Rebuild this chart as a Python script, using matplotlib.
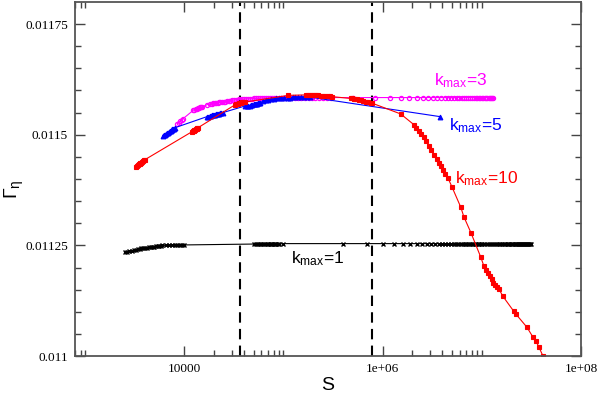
import numpy as np
import matplotlib
matplotlib.use("Agg")
import matplotlib.pyplot as plt
from matplotlib.ticker import FixedLocator, NullFormatter

plt.rcParams['font.family'] = ['Liberation Sans', 'DejaVu Sans']
plt.rcParams['mathtext.default'] = 'regular'

# k_max = 1 (black)
k1_S = [2500, 2650, 2800, 2950, 3100, 3250, 3400, 3550, 3700, 3850, 4000, 4200, 4400,
        4600, 4800, 5000, 5200, 5400, 5600, 5800, 6000, 6500,
        7000, 7500, 8000, 8500, 9000, 9500, 10000,
        50000, 52500, 55000, 57500, 60000, 62500, 65000, 67500, 70000, 72500, 75000,
        77500, 80000, 82500, 85000, 87500, 90000]
k1_G = [0.011234, 0.011235, 0.011237, 0.011238, 0.011239, 0.01124, 0.011241, 0.011242,
        0.011243, 0.011244, 0.011245, 0.011245, 0.011246, 0.011246, 0.011247, 0.011247,
        0.011248, 0.011248, 0.011249, 0.011249, 0.01125, 0.01125, 0.01125, 0.011251,
        0.011251, 0.011251, 0.011251, 0.011251, 0.011251,
        0.011253, 0.011253, 0.011253, 0.011253, 0.011253, 0.011253, 0.011253, 0.011253,
        0.011253, 0.011253, 0.011253, 0.011253, 0.011253, 0.011253, 0.011253, 0.011253,
        0.011253]
# sparse tail of k_max=1, S in units of 1e6
k1_tail_S = [0.1, 0.4, 0.7, 1.0, 1.3, 1.6, 1.9, 2.2, 2.5, 2.8, 3.1, 3.4, 3.7, 4.0, 4.3,
             4.6, 4.9, 5.2, 5.5, 5.8, 6.1, 6.4, 6.7, 7.0, 7.3, 7.6, 7.9, 8.2, 8.5, 8.8,
             9.1, 9.4, 9.7, 10.0, 10.6, 11.2, 11.8, 12.4, 13.0, 13.6, 14.2, 14.8, 15.4,
             16.0, 16.6, 17.2, 17.8, 18.4, 19.0, 19.6, 20.2, 20.8, 21.4, 22.0, 22.6, 23.2,
             23.8, 24.4, 25.0, 25.6, 26.2, 26.8, 27.4, 28.0, 28.6, 29.2, 29.8, 30.4, 31.0]
k1_tail_G = 0.011254

# k_max = 3 (magenta)
k3_S = [8500, 8800, 9100, 9400, 9700, 12300, 12650, 13000, 13400, 13800, 14150, 14500,
        14850, 15200, 17000,
        18300, 19000, 19500, 20200, 21000, 21700, 22500, 23200, 24000, 25000, 26000,
        27000, 28000, 29000, 30000, 31500, 33000, 34500, 36000, 38000, 40000, 42000,
        44000, 46000, 48000, 50500, 53000, 55500, 58000, 61000, 64000, 67000, 70000,
        73500, 77000, 81000, 85000, 90000, 95000, 102000, 110000, 120000, 130000,
        140000, 150000, 165000, 180000, 195000, 210000, 230000, 250000, 275000, 300000]
k3_G = [0.011525, 0.011527, 0.01153, 0.011533, 0.011536, 0.011555, 0.011557, 0.011558,
        0.011559, 0.01156, 0.011561, 0.011562, 0.011562, 0.011563, 0.011568,
        0.01157, 0.01157, 0.011571, 0.011571, 0.011572, 0.011572, 0.011573, 0.011573,
        0.011574, 0.011574, 0.011575, 0.011576, 0.011577, 0.011577, 0.011578, 0.011578,
        0.011579, 0.011579, 0.01158, 0.01158, 0.01158, 0.011581, 0.011581, 0.011581,
        0.011581, 0.011582, 0.011582, 0.011582, 0.011582, 0.011583, 0.011583, 0.011583,
        0.011583, 0.011583, 0.011583, 0.011583, 0.011583, 0.011584, 0.011584, 0.011584,
        0.011584, 0.011584, 0.011584, 0.011584, 0.011584, 0.011584, 0.011584, 0.011584,
        0.011584, 0.011584, 0.011584, 0.011584, 0.011584]
# sparse tail of k_max=3, S in units of 1e6
k3_tail_S = [0.50, 0.84, 1.18, 1.52, 1.86, 2.20, 2.54, 2.88, 3.22, 3.56, 3.90, 4.24,
             4.58, 4.92, 5.26, 5.60, 5.94, 6.28, 6.62, 6.96, 7.30, 7.64, 7.98, 8.32,
             8.66, 9.00, 9.34, 9.68, 10.02, 10.36, 10.70, 11.04, 11.38, 11.72, 12.06,
             12.40, 12.74, 13.08]
k3_tail_G = 0.011584

# k_max = 5 (blue)
k5_S = [6100, 6250, 6400, 6550, 6700, 6850, 7000, 7150, 7300, 7450, 7600, 7750, 7900, 8100,
        17000, 17500, 18000, 18500, 19000, 19500, 20000, 20500, 21000, 21500, 22000,
        22500, 23000, 23700, 24500,
        41000, 42500, 44000, 45500, 47000, 48500, 50000, 51500, 53000, 54500, 56000,
        57200, 58500,
        62000, 66000, 70000, 75000, 80000, 85000, 90000, 95000, 102000, 110000, 117000,
        125000, 132000, 140000, 150000, 160000, 172000, 185000,
        3770000]
k5_G = [0.011498, 0.011499, 0.0115, 0.011502, 0.011503, 0.011505, 0.011506, 0.011508,
        0.011509, 0.011511, 0.011512, 0.011513, 0.011514, 0.011516,
        0.011541, 0.011541, 0.011542, 0.011543, 0.011544, 0.011544, 0.011545, 0.011545,
        0.011546, 0.011546, 0.011547, 0.011547, 0.011548, 0.011549, 0.01155,
        0.011565, 0.011565, 0.011566, 0.011566, 0.011567, 0.011568, 0.011569, 0.011569,
        0.01157, 0.01157, 0.011571, 0.011571, 0.011572,
        0.011576, 0.011578, 0.011579, 0.01158, 0.011581, 0.011582, 0.011582, 0.011583,
        0.011583, 0.011584, 0.011584, 0.011585, 0.011585, 0.011585, 0.011585, 0.011585,
        0.011585, 0.011585, 0.011541]

# k_max = 10 (red)
k10_S = [3270, 3350, 3400, 3480, 3550, 3620, 3700, 3780, 3850, 3950, 4040,
         12000, 12200, 12400, 12600, 12800, 13050, 13300, 13550, 13800,
         32700, 33600, 34500, 35500, 36500, 37500, 38500, 39900, 41300,
         112000,
         167000, 176000, 185000, 195000, 205000, 215000, 225000, 237000, 250000, 265000,
         280000, 296000, 312000,
         475000, 492000, 510000, 530000, 550000, 575000, 600000, 637000, 674000, 697000,
         720000, 755000, 790000,
         1520000,
         2060000, 2180000, 2310000, 2450000, 2600000, 2750000, 2900000, 3100000, 3300000,
         3500000, 3700000, 3870000, 4050000, 4290000, 4540000,
         4980000, 6140000, 6580000, 7750000, 9770000,
         10500000, 11000000, 11500000, 12000000, 12600000, 13100000, 13700000, 14300000,
         14900000,
         16300000, 21000000, 22000000, 28500000, 32700000, 35000000, 37700000,
         41300000, 45000000]
k10_G = [0.011428, 0.01143, 0.011431, 0.011433, 0.011434, 0.011436, 0.011437, 0.011439,
         0.01144, 0.011442, 0.011444,
         0.011507, 0.011508, 0.011509, 0.01151, 0.011511, 0.011513, 0.011514, 0.011515,
         0.011516,
         0.011568, 0.011569, 0.01157, 0.011571, 0.011571, 0.011572, 0.011573, 0.011574,
         0.011574,
         0.011589,
         0.01159, 0.01159, 0.01159, 0.01159, 0.011589, 0.011589, 0.011589, 0.011588,
         0.011588, 0.011588, 0.011587, 0.011587, 0.011586,
         0.011582, 0.011582, 0.011581, 0.01158, 0.01158, 0.011579, 0.011578, 0.011577,
         0.011575, 0.011574, 0.011573, 0.011572, 0.011571,
         0.011547,
         0.011523, 0.011516, 0.011509, 0.011502, 0.011495, 0.011485, 0.011475, 0.011465,
         0.011455, 0.011446, 0.011437, 0.011429, 0.011421, 0.011412, 0.011403,
         0.011383, 0.011336, 0.011315, 0.011279, 0.011223,
         0.011203, 0.011195, 0.011187, 0.01118, 0.011173, 0.011166, 0.01116, 0.011155,
         0.011151,
         0.011135, 0.011101, 0.011095, 0.011065, 0.011043, 0.011034, 0.01102,
         0.011, 0.01098]

vlines_S = [36200, 775000]

fig = plt.figure(figsize=(5.99, 3.94), dpi=100)
ax = fig.add_axes([0.1252, 0.0964, 0.8448, 0.8986])

for xv in vlines_S:
    ax.axvline(xv, color='black', lw=1.5, ls=(0, (5, 3)), zorder=1)

# black
s1 = list(k1_S) + [v * 1e6 for v in k1_tail_S]
g1 = list(k1_G) + [k1_tail_G] * len(k1_tail_S)
ax.plot(s1, g1, color='black', lw=0.8, marker='x', ms=2.8, mew=1.0)

# magenta
s3 = list(k3_S) + [v * 1e6 for v in k3_tail_S]
g3 = list(k3_G) + [k3_tail_G] * len(k3_tail_S)
ax.plot(s3, g3, color='#ff00ff', lw=0.8, marker='o', ms=3.0, mfc='none', mew=0.9)

# blue
ax.plot(k5_S, k5_G, color='#0000ff', lw=0.8, marker='^', ms=3.4, mew=0.8)

# red
ax.plot(k10_S, k10_G, color='#ff0000', lw=0.8, marker='s', ms=2.8, mew=0.8)

ax.set_xscale('log')
ax.set_xlim(792, 1.0e8)
ax.set_ylim(0.011, 0.0118)

ax.xaxis.set_major_locator(FixedLocator([1e4, 1e6, 1e8]))
ax.set_xticklabels(['10000', '1e+06', '1e+08'])
minors = [k * 100 for k in range(2, 11)] + [k * 1e4 for k in range(2, 11)] + [k * 1e6 for k in range(2, 11)]
ax.xaxis.set_minor_locator(FixedLocator(minors))
ax.xaxis.set_minor_formatter(NullFormatter())

ax.yaxis.set_major_locator(FixedLocator([0.011, 0.01125, 0.0115, 0.01175]))
ax.set_yticklabels(['0.011', '0.01125', '0.0115', '0.01175'])
ax.yaxis.set_minor_locator(FixedLocator([0.01105, 0.0111, 0.01115, 0.0112, 0.0113, 0.01135,
                                         0.0114, 0.01145, 0.01155, 0.0116, 0.01165, 0.0117]))

ax.tick_params(which='both', direction='in', top=True, right=True, color='#444444', width=1.0)
ax.tick_params(which='major', length=7, pad=5)
ax.tick_params(which='minor', length=4)
for lab in ax.get_xticklabels() + ax.get_yticklabels():
    lab.set_family('Liberation Serif')
    lab.set_fontsize(9.5)
for sp in ax.spines.values():
    sp.set_color('#555555')
    sp.set_linewidth(1.3)

ax.set_xlabel('S', fontsize=14)
ax.xaxis.set_label_coords(0.5, -0.06)
ax.set_ylabel('Γ$_{η}$', fontsize=14)
ax.yaxis.set_label_coords(-0.096, 0.47)

ax.text(3.27e6, 0.011611, 'k$_{max}$=3', color='#ff00ff', fontsize=12.5)
ax.text(4.64e6, 0.011509, 'k$_{max}$=5', color='#0000ff', fontsize=12.5)
ax.text(5.33e6, 0.01139, 'k$_{max}$=10', color='#ff0000', fontsize=12.5)
ax.text(1.2e5, 0.01121, 'k$_{max}$=1', color='black', fontsize=12.5)

fig.savefig('out.png', dpi=100)
